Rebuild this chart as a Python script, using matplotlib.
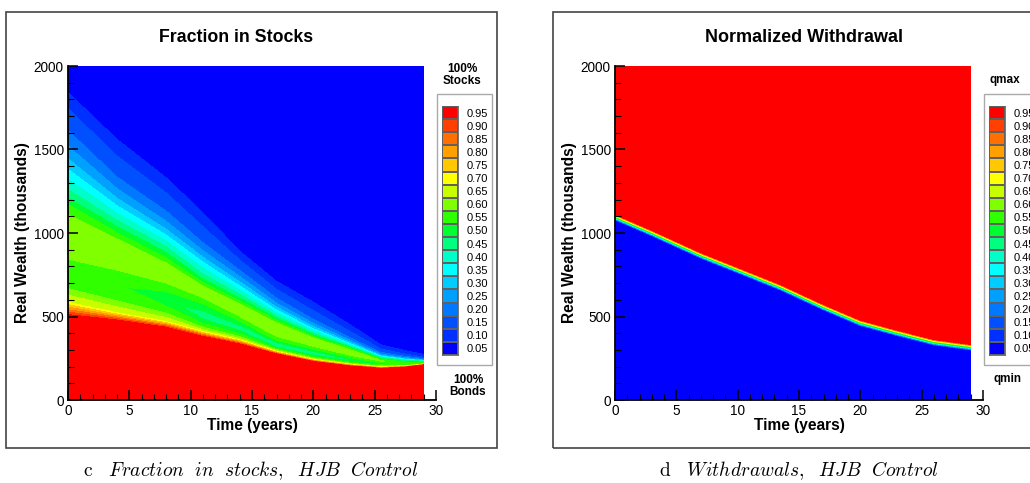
import numpy as np
import matplotlib.pyplot as plt
from matplotlib.colors import ListedColormap, BoundaryNorm
from matplotlib.patches import Rectangle
from matplotlib.ticker import MultipleLocator

plt.rcParams['font.family'] = ['Liberation Sans', 'DejaVu Sans']
plt.rcParams['mathtext.fontset'] = 'cm'

# contour levels (legend) and their colours, low -> high
levels = [0.05, 0.10, 0.15, 0.20, 0.25, 0.30, 0.35, 0.40, 0.45, 0.50,
          0.55, 0.60, 0.65, 0.70, 0.75, 0.80, 0.85, 0.90, 0.95]
level_colors = ['#0000ff', '#0030ff', '#0050ff', '#0078ff', '#00a0ff',
                '#00ccff', '#00ffff', '#00ffc8', '#00ff80', '#00ff30',
                '#30ff00', '#80ff00', '#c8ff00', '#ffff00', '#ffc800',
                '#ffa000', '#ff7000', '#ff4000', '#ff0000']

# fraction in stocks (bottom -> top)
frac_time = [0, 4, 8, 11, 14, 17, 20, 23, 25.5, 27.5, 29]
frac_wealth = [
    [0, 0, 0, 0, 0, 0, 0, 0, 0, 0, 0],
    [510, 478, 435, 380, 335, 275, 230, 203, 189, 196, 210],
    [585, 523, 470, 410, 360, 290, 242, 213, 198, 203, 214],
    [650, 575, 505, 425, 372, 298, 249, 218, 202, 206, 216],
    [690, 620, 540, 450, 390, 307, 256, 223, 207, 209, 218],
    [760, 690, 600, 505, 430, 325, 278, 238, 216, 214, 220],
    [820, 760, 680, 590, 480, 362, 310, 258, 226, 220, 222],
    [860, 790, 715, 630, 515, 395, 330, 275, 234, 225, 224],
    [1050, 935, 800, 670, 560, 450, 362, 295, 241, 229, 226],
    [1150, 985, 835, 690, 585, 470, 378, 307, 246, 233, 228],
    [1230, 1055, 900, 735, 620, 495, 395, 318, 252, 237, 231],
    [1350, 1140, 970, 810, 670, 530, 420, 333, 260, 242, 234],
    [1475, 1230, 1040, 870, 720, 565, 447, 350, 270, 250, 240],
    [1660, 1370, 1160, 965, 795, 625, 495, 380, 290, 265, 250],
    [1830, 1550, 1320, 1110, 880, 700, 575, 440, 320, 285, 262],
    [1855, 1575, 1345, 1135, 905, 725, 600, 465, 345, 310, 287],
    [2000, 2000, 2000, 2000, 2000, 2000, 2000, 2000, 2000, 2000, 2000],
]
frac_value = [
    [1.0, 1.0, 1.0, 1.0, 1.0, 1.0, 1.0, 1.0, 1.0, 1.0, 1.0],
    [0.93, 0.93, 0.93, 0.93, 0.93, 0.93, 0.93, 0.93, 0.93, 0.93, 0.93],
    [0.675, 0.675, 0.675, 0.675, 0.675, 0.675, 0.675, 0.675, 0.675, 0.675, 0.675],
    [0.6, 0.6, 0.6, 0.6, 0.6, 0.6, 0.6, 0.6, 0.6, 0.6, 0.6],
    [0.54, 0.54, 0.54, 0.54, 0.54, 0.54, 0.54, 0.54, 0.54, 0.54, 0.54],
    [0.53, 0.53, 0.50, 0.44, 0.44, 0.41, 0.43, 0.46, 0.5, 0.5, 0.5],
    [0.54, 0.54, 0.54, 0.54, 0.54, 0.54, 0.54, 0.54, 0.54, 0.54, 0.54],
    [0.6, 0.6, 0.6, 0.6, 0.6, 0.6, 0.6, 0.6, 0.58, 0.55, 0.52],
    [0.61, 0.61, 0.61, 0.61, 0.61, 0.61, 0.61, 0.6, 0.56, 0.5, 0.48],
    [0.55, 0.55, 0.55, 0.55, 0.55, 0.55, 0.55, 0.55, 0.5, 0.45, 0.44],
    [0.45, 0.45, 0.45, 0.45, 0.45, 0.45, 0.45, 0.45, 0.45, 0.45, 0.45],
    [0.35, 0.35, 0.35, 0.35, 0.35, 0.35, 0.35, 0.35, 0.35, 0.35, 0.35],
    [0.25, 0.25, 0.25, 0.25, 0.25, 0.25, 0.25, 0.25, 0.25, 0.25, 0.25],
    [0.15, 0.15, 0.15, 0.15, 0.15, 0.15, 0.15, 0.15, 0.15, 0.15, 0.15],
    [0.10, 0.10, 0.10, 0.10, 0.10, 0.10, 0.10, 0.10, 0.10, 0.10, 0.10],
    [0.04, 0.04, 0.04, 0.04, 0.04, 0.04, 0.04, 0.04, 0.04, 0.04, 0.04],
    [0.02, 0.02, 0.02, 0.02, 0.02, 0.02, 0.02, 0.02, 0.02, 0.02, 0.02],
]

# normalized withdrawal: qmin below the switching curve, qmax above
wd_time = [0, 3, 7, 10, 13.5, 17, 20, 23, 26, 29]
wd_edge = [1095, 1000, 866, 778, 675, 556, 462, 402, 346, 316]
wd_halfwidth = 20

cmap = ListedColormap(level_colors)
bounds = [0.0] + [(a + b) / 2 for a, b in zip(levels[:-1], levels[1:])] + [1.001]
norm = BoundaryNorm(bounds, cmap.N)

fig = plt.figure(figsize=(10.3, 4.83), dpi=100)
W, H = 1030, 483


def fx(px):
    return px / W


def fy(py):
    return 1 - py / H


# panel frames
fig.patches.append(Rectangle((fx(6), fy(448)), fx(491), 436 / H, transform=fig.transFigure,
                             fill=False, ec='#444444', lw=1.2))
fig.patches.append(Rectangle((fx(553), fy(448)), fx(500), 436 / H, transform=fig.transFigure,
                             fill=False, ec='#444444', lw=1.2))


def style_axes(ax):
    ax.set_xlim(0, 30)
    ax.set_ylim(0, 2000)
    ax.spines['top'].set_visible(False)
    ax.spines['right'].set_visible(False)
    for s in ('left', 'bottom'):
        ax.spines[s].set_linewidth(1.3)
        ax.spines[s].set_zorder(5)
    ax.xaxis.set_major_locator(MultipleLocator(5))
    ax.xaxis.set_minor_locator(MultipleLocator(1))
    ax.yaxis.set_major_locator(MultipleLocator(500))
    ax.yaxis.set_minor_locator(MultipleLocator(100))
    ax.tick_params(which='major', direction='in', length=7, width=1.1, labelsize=9.8,
                   top=False, right=False, pad=3)
    ax.tick_params(which='minor', direction='in', length=4, width=0.8, top=False, right=False)
    ax.set_xlabel('Time (years)', fontsize=11.2, fontweight='bold', labelpad=0)
    ax.set_ylabel('Real Wealth (thousands)', fontsize=11.2, fontweight='bold', labelpad=3)


def legend_box(x0, header, footer, hx, fx_):
    fig.patches.append(Rectangle((fx(x0 - 5), fy(365)), fx(55), 271 / H,
                                 transform=fig.transFigure, fill=False, ec='#aaaaaa', lw=1))
    lax = fig.add_axes([fx(x0), fy(355), fx(16), 249 / H])
    lax.pcolormesh([0, 1], np.arange(len(levels) + 1), np.array(levels).reshape(-1, 1),
                   cmap=cmap, norm=norm, edgecolors='#606060', linewidth=0.3)
    lax.set_xlim(0, 1)
    lax.set_ylim(0, len(levels))
    lax.set_xticks([])
    lax.yaxis.tick_right()
    lax.set_yticks(np.arange(len(levels)) + 0.5)
    lax.set_yticklabels(['%.2f' % v for v in levels])
    lax.tick_params(axis='y', length=0, pad=6, labelsize=8)
    for s in lax.spines.values():
        s.set_linewidth(0.6)
        s.set_color('#606060')
    if header:
        fig.text(fx(hx), fy(75), header, ha='center', va='center', fontsize=8.5,
                 fontweight='bold', linespacing=1.0)
    if footer:
        fig.text(fx(fx_), fy(386), footer, ha='center', va='center', fontsize=8.5,
                 fontweight='bold', linespacing=1.0)


# left panel: fraction in stocks
ax1 = fig.add_axes([fx(68), fy(400), fx(368), 334 / H])
T1 = np.array([frac_time] * len(frac_wealth))
ax1.contourf(T1, np.array(frac_wealth), np.array(frac_value), levels=bounds, cmap=cmap, norm=norm)
style_axes(ax1)
fig.text(fx(236), fy(37), 'Fraction in Stocks', ha='center', va='center',
         fontsize=12.8, fontweight='bold')
legend_box(442, '100%\nStocks', '100%\nBonds', 462, 468)

# right panel: normalized withdrawal
ax2 = fig.add_axes([fx(615), fy(400), fx(368), 334 / H])
edge = np.array(wd_edge)
wd_wealth = np.vstack([np.zeros_like(edge), edge - wd_halfwidth, edge + wd_halfwidth,
                       np.full_like(edge, 2000)])
wd_value = np.array([[0.0] * len(wd_time), [0.0] * len(wd_time),
                     [1.0] * len(wd_time), [1.0] * len(wd_time)])
T2 = np.array([wd_time] * 4)
ax2.contourf(T2, wd_wealth, wd_value, levels=bounds, cmap=cmap, norm=norm)
style_axes(ax2)
fig.text(fx(804), fy(37), 'Normalized Withdrawal', ha='center', va='center',
         fontsize=13, fontweight='bold')
fig.text(fx(1005), fy(80), 'qmax', ha='center', va='center', fontsize=8.5, fontweight='bold')
fig.text(fx(1007), fy(379), 'qmin', ha='center', va='center', fontsize=8.5, fontweight='bold')
legend_box(989, '', '', 1005, 1007)

# captions
fig.text(fx(251), fy(471), r'$\mathrm{c}\quad \mathit{Fraction\ \ in\ \ stocks,\ \ HJB\ \ Control}$',
         ha='center', va='center', fontsize=14)
fig.text(fx(799), fy(471), r'$\mathrm{d}\quad \mathit{Withdrawals,\ \ HJB\ \ Control}$',
         ha='center', va='center', fontsize=14)

fig.savefig('out.png', dpi=100)
